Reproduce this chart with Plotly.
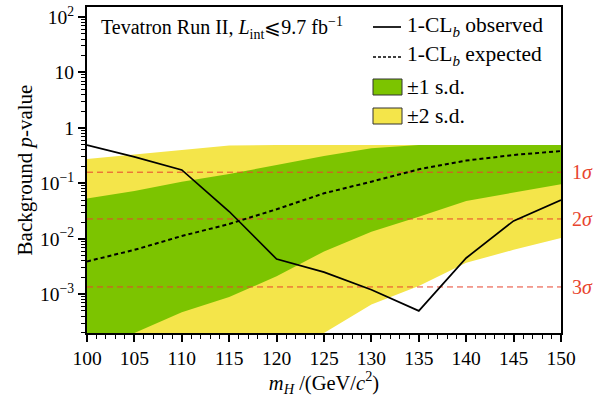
import numpy as np
import plotly.graph_objects as go

mass = [100, 105, 110, 115, 120, 125, 130, 135, 140, 145, 150]
observed = [0.49, 0.30, 0.174, 0.031, 0.0043, 0.0025, 0.0012, 0.0005, 0.0045, 0.021, 0.050]
expected = [0.0039, 0.0063, 0.0112, 0.0185, 0.034, 0.066, 0.107, 0.179, 0.257, 0.324, 0.382]
band1_hi = [0.053, 0.073, 0.107, 0.147, 0.214, 0.31, 0.43, 0.49, 0.49, 0.49, 0.49]
band1_lo = [0.0001, 0.0002, 0.00047, 0.00089, 0.0021, 0.0059, 0.0134, 0.025, 0.048, 0.068, 0.096]
band2_hi = [0.274, 0.33, 0.41, 0.48, 0.49, 0.49, 0.49, 0.49, 0.49, 0.49, 0.49]
band2_lo = [0.00001, 0.00002, 0.00003, 0.00005, 0.0001, 0.0002, 0.00065, 0.0014, 0.0037, 0.0063, 0.0103]
sigma_p = [0.1587, 0.02275, 0.00135]
sigma_labels = ["1<i>σ</i>", "2<i>σ</i>", "3<i>σ</i>"]

GREEN = "#7cc400"
YELLOW = "#f4e54a"
RED = "#e8452f"
FONT = "Liberation Serif"

def F(size, color="black"):
    return dict(family=FONT, size=size, color=color)

fig = go.Figure()
fig.add_trace(go.Scatter(x=mass + mass[::-1], y=band2_hi + band2_lo[::-1], fill="toself",
                         fillcolor=YELLOW, line=dict(width=0), mode="lines", hoverinfo="skip"))
fig.add_trace(go.Scatter(x=mass + mass[::-1], y=band1_hi + band1_lo[::-1], fill="toself",
                         fillcolor=GREEN, line=dict(width=0), mode="lines", hoverinfo="skip"))
for p in sigma_p:
    fig.add_trace(go.Scatter(x=[mass[0], mass[-1]], y=[p, p], mode="lines",
                             line=dict(color=RED, width=1, dash="6px,4px")))
fig.add_trace(go.Scatter(x=mass, y=expected, mode="lines",
                         line=dict(color="black", width=2, dash="4px,3px")))
fig.add_trace(go.Scatter(x=mass, y=observed, mode="lines",
                         line=dict(color="black", width=1.7)))

for p, lab in zip(sigma_p, sigma_labels):
    fig.add_annotation(x=1.02, xref="paper", y=np.log10(p), yref="y", text=lab,
                       showarrow=False, xanchor="left", yanchor="middle",
                       font=F(20, RED))

def px(x):
    return (x - 87) / 474

def py(y):
    return (333 - y) / 326

fig.add_annotation(x=px(99), y=py(28), xref="paper", yref="paper", showarrow=False,
                   xanchor="left", yanchor="middle",
                   text="Tevatron Run II, <i>L</i><sub>int</sub>⩽9.7 fb<sup>−1</sup>",
                   font=F(20))
# legend
fig.add_shape(type="line", xref="paper", yref="paper", x0=px(373), x1=px(401), y0=py(27), y1=py(27),
              line=dict(color="black", width=1.7))
fig.add_shape(type="line", xref="paper", yref="paper", x0=px(373), x1=px(401), y0=py(57), y1=py(57),
              line=dict(color="black", width=1.5, dash="3px,2px"))
fig.add_shape(type="rect", xref="paper", yref="paper", x0=px(373), x1=px(402), y0=py(95), y1=py(79),
              fillcolor=GREEN, line=dict(color="#333", width=1))
fig.add_shape(type="rect", xref="paper", yref="paper", x0=px(373), x1=px(402), y0=py(124), y1=py(108),
              fillcolor=YELLOW, line=dict(color="#333", width=1))
for yy, t in [(26, "1-CL<sub><i>b</i></sub> observed"), (55, "1-CL<sub><i>b</i></sub> expected"),
              (87, "±1 s.d."), (116, "±2 s.d.")]:
    fig.add_annotation(x=px(405), y=py(yy), xref="paper", yref="paper", showarrow=False,
                       xanchor="left", yanchor="middle", text=t, font=F(21.5))

minor_vals = [m * 10.0 ** e for e in range(-4, 3) for m in range(2, 10)]
fig.update_layout(
    template="none",
    width=593, height=397, margin=dict(l=87, r=32, t=7, b=64),
    paper_bgcolor="white", plot_bgcolor="white", showlegend=False,
    font=F(19.5),
    xaxis=dict(range=[100, 150], tickmode="array", tickvals=mass, ticks="outside", ticklen=7, tickwidth=1.5,
               tickcolor="black",
               showline=True, linewidth=2, linecolor="black", mirror=True, showgrid=False,
               zeroline=False, tickfont=F(19.5),
               minor=dict(dtick=1, ticks="outside", ticklen=4, tickwidth=1.2, tickcolor="black", showgrid=False),
               title=dict(text="<i>m</i><sub><i>H</i></sub> /(GeV/<i>c</i><sup>2</sup>)", standoff=4,
                          font=F(20.5))),
    yaxis=dict(type="log", range=[-3.70, 2.18],
               tickvals=[1e-3, 1e-2, 1e-1, 1, 10, 100],
               ticktext=["10<sup>−3</sup>", "10<sup>−2</sup>", "10<sup>−1</sup>", "1", "10", "10<sup>2</sup>"],
               ticks="outside", ticklen=7, tickwidth=1.5, tickcolor="black",
               showline=True, linewidth=2, linecolor="black", mirror=True, showgrid=False,
               zeroline=False, tickfont=F(19.5),
               minor=dict(tickvals=minor_vals, ticks="outside", ticklen=4, tickwidth=1, tickcolor="black", showgrid=False),
               title=dict(text="Background <i>p</i>-value", standoff=2, font=F(21))),
)
fig.write_html("out.html")
